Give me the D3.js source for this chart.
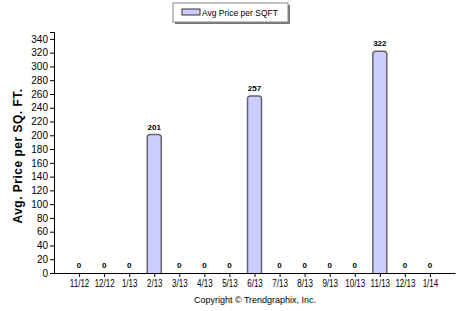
<!DOCTYPE html>
<html>
<head>
<meta charset="utf-8">
<script src="https://cdn.jsdelivr.net/npm/d3@7"></script>
<style>
  body { margin: 0; background: #fff; }
  text { font-family: "Liberation Sans", Arial, sans-serif; }
</style>
</head>
<body>
<div id="chart"></div>
<script>
// data
const months = ["11/12", "12/12", "1/13", "2/13", "3/13", "4/13", "5/13", "6/13",
                "7/13", "8/13", "9/13", "10/13", "11/13", "12/13", "1/14"];
const avgPrice = [0, 0, 0, 201, 0, 0, 0, 257, 0, 0, 0, 0, 322, 0, 0];
const yTicks = d3.range(0, 341, 20);

const width = 463, height = 311;
const margin = {top: 32, right: 8, bottom: 38, left: 54};

const svg = d3.select("#chart").append("svg")
    .attr("width", width)
    .attr("height", height);

const x = d3.scalePoint()
    .domain(months)
    .range([margin.left, width - margin.right])
    .padding(1);

const y = d3.scaleLinear()
    .domain([0, 350])
    .range([height - margin.bottom, margin.top]);

// y axis
let yAxis = svg.append("g")
    .attr("transform", `translate(${margin.left},0)`)
    .call(d3.axisLeft(y).tickValues(yTicks).tickSize(4).tickPadding(2));
yAxis.select(".domain").attr("stroke", "#000");
yAxis.selectAll("text").attr("font-size", 10).attr("fill", "#000");

// x axis
let xAxis = svg.append("g")
    .attr("transform", `translate(0,${y(0)})`)
    .call(d3.axisBottom(x).tickSize(4).tickPadding(3).tickSizeOuter(0));
xAxis.select(".domain").attr("stroke", "#000");
// the original font is much narrower, squeeze the labels a bit
xAxis.selectAll("text")
    .attr("font-size", 10)
    .attr("fill", "#000")
    .attr("transform", "scale(0.8,1)");

// bars with rounded tops
const barW = 14, r = 3;
function barPath(d, i) {
    let x0 = x(months[i]) - barW / 2, x1 = x0 + barW;
    let y0 = y(0), y1 = y(d);
    return `M${x0},${y0}V${y1 + r}Q${x0},${y1} ${x0 + r},${y1}H${x1 - r}Q${x1},${y1} ${x1},${y1 + r}V${y0}`;
}

let bars = avgPrice.map((v, i) => ({month: months[i], value: v, i: i})).filter(d => d.value > 0);

svg.append("g").selectAll("path")
    .data(bars)
    .enter()
    .append("path")
    .attr("d", d => barPath(d.value, d.i))
    .attr("fill", "#ccccff")
    .attr("stroke", "#666")
    .attr("stroke-width", 1.5);

// value labels
svg.append("g").selectAll("text")
    .data(avgPrice)
    .enter()
    .append("text")
    .attr("x", (d, i) => x(months[i]))
    .attr("y", d => y(d) - 5)
    .attr("text-anchor", "middle")
    .attr("font-size", 8)
    .attr("font-weight", "bold")
    .text(d => d);

// y axis title
svg.append("text")
    .attr("transform", `translate(22,${(y(0) + y(340)) / 2}) rotate(-90)`)
    .attr("text-anchor", "middle")
    .attr("font-size", 12)
    .attr("font-weight", "bold")
    .attr("letter-spacing", 0.5)
    .text("Avg. Price per SQ. FT.");

// legend
const lg = svg.append("g");
lg.append("rect").attr("x", 175).attr("y", 5).attr("width", 115).attr("height", 19).attr("fill", "#777");
lg.append("rect").attr("x", 173).attr("y", 3).attr("width", 115).attr("height", 19)
    .attr("fill", "#fff").attr("stroke", "#888");
lg.append("rect").attr("x", 182).attr("y", 9).attr("width", 18).attr("height", 6)
    .attr("fill", "#ccccff").attr("stroke", "#333");
lg.append("text").attr("x", 202).attr("y", 16).attr("font-size", 8.5).text("Avg Price per SQFT");

// copyright
svg.append("text")
    .attr("x", 255)
    .attr("y", 303)
    .attr("text-anchor", "middle")
    .attr("font-size", 9)
    .text("Copyright \u00A9 Trendgraphix, Inc.");
</script>
</body>
</html>
